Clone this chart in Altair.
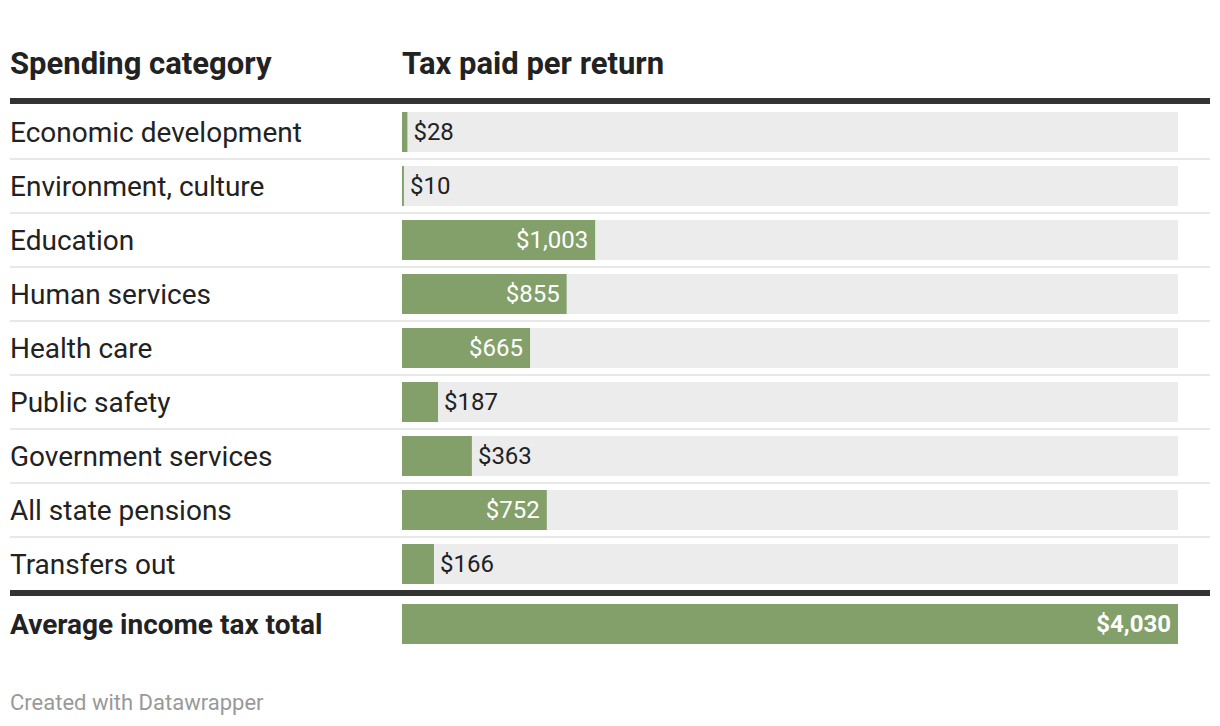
import altair as alt
import pandas as pd

categories = ["Economic development", "Environment, culture", "Education", "Human services",
              "Health care", "Public safety", "Government services", "All state pensions",
              "Transfers out"]
values = [28, 10, 1003, 855, 665, 187, 363, 752, 166]
total_label = "Average income tax total"
total_value = 4030
header_left = "Spending category"
header_right = "Tax paid per return"
footer = "Created with Datawrapper"

GREEN = "#83a06a"
GRAY = "#ececec"
FONT = "Roboto"

rows = []
for i, (c, v) in enumerate(zip(categories, values)):
    rows.append({"cat": c, "value": v, "row": i, "total": False})
rows.append({"cat": total_label, "value": total_value, "row": len(categories) + 60 / 54 - 1, "total": True})
df = pd.DataFrame(rows)
df["y0"] = df["row"] - 0.37
df["y1"] = df["row"] + 0.37
df["label"] = df["value"].map(lambda v: f"${v:,}")
df["inside"] = df["value"] > 500
df["zero"] = 0
df["maxv"] = total_value
df["sep"] = df["row"] + 0.5

xs = alt.Scale(domain=[0, total_value], range=[394, 1170])
ys = alt.Scale(domain=[0, 8], range=[124, 124 + 54 * 8])

base = alt.Chart(df)

bg = base.mark_rect(color=GRAY).encode(
    x=alt.X("zero:Q", scale=xs, axis=None), x2="maxv:Q",
    y=alt.Y("y0:Q", scale=ys, axis=None), y2="y1:Q")

bars = base.mark_rect(color=GREEN).encode(
    x=alt.X("zero:Q", scale=xs, axis=None), x2="value:Q",
    y=alt.Y("y0:Q", scale=ys, axis=None), y2="y1:Q")

seps = base.transform_filter("datum.row < 8").mark_rule(color="#e8e8e8", strokeWidth=2).encode(
    y=alt.Y("sep:Q", scale=ys, axis=None), x=alt.value(2), x2=alt.value(1202))

cat_text = base.transform_filter("!datum.total").mark_text(
    align="left", baseline="middle", dy=2, font=FONT, fontSize=28, color="#222222").encode(
    x=alt.value(2), y=alt.Y("row:Q", scale=ys, axis=None), text="cat:N")

tot_text = base.transform_filter("datum.total").mark_text(
    align="left", baseline="middle", dy=2, font=FONT, fontSize=28, fontWeight="bold", color="#222222").encode(
    x=alt.value(2), y=alt.Y("row:Q", scale=ys, axis=None), text="cat:N")

in_lbl = base.transform_filter("datum.inside && !datum.total").mark_text(
    align="right", baseline="middle", dx=-7, dy=1, font=FONT, fontSize=24, color="white").encode(
    x=alt.X("value:Q", scale=xs, axis=None), y=alt.Y("row:Q", scale=ys, axis=None), text="label:N")

tot_lbl = base.transform_filter("datum.total").mark_text(
    align="right", baseline="middle", dx=-7, dy=1, font=FONT, fontSize=24, fontWeight="bold", color="white").encode(
    x=alt.X("value:Q", scale=xs, axis=None), y=alt.Y("row:Q", scale=ys, axis=None), text="label:N")

out_lbl = base.transform_filter("!datum.inside").mark_text(
    align="left", baseline="middle", dx=6, dy=1, font=FONT, fontSize=24, color="#222222").encode(
    x=alt.X("value:Q", scale=xs, axis=None), y=alt.Y("row:Q", scale=ys, axis=None), text="label:N")

hdr = pd.DataFrame({"t": [header_left, header_right], "px": [2, 394]})
headers = alt.Chart(hdr).mark_text(
    align="left", baseline="middle", font=FONT, fontSize=31, fontWeight="bold", color="#222222").encode(
    x=alt.X("px:Q", scale=None, axis=None), y=alt.value(57), text="t:N")

thick = alt.Chart(pd.DataFrame({"yy": [93, 585]})).mark_rule(color="#333333", strokeWidth=6).encode(
    y=alt.Y("yy:Q", scale=None, axis=None), x=alt.value(2), x2=alt.value(1202))

foot = alt.Chart(pd.DataFrame({"t": [footer]})).mark_text(
    align="left", baseline="middle", font=FONT, fontSize=22, color="#999999").encode(
    x=alt.value(2), y=alt.value(695), text="t:N")

chart = alt.layer(bg, bars, seps, cat_text, tot_text, in_lbl, tot_lbl, out_lbl, headers, thick, foot).properties(
    width=1204, height=708, padding=0, autosize=alt.AutoSizeParams(type="none")
).configure(background="white", view=alt.ViewConfig(stroke=None))

chart.save("out.html", embed_options={"renderer": "svg", "actions": False})
